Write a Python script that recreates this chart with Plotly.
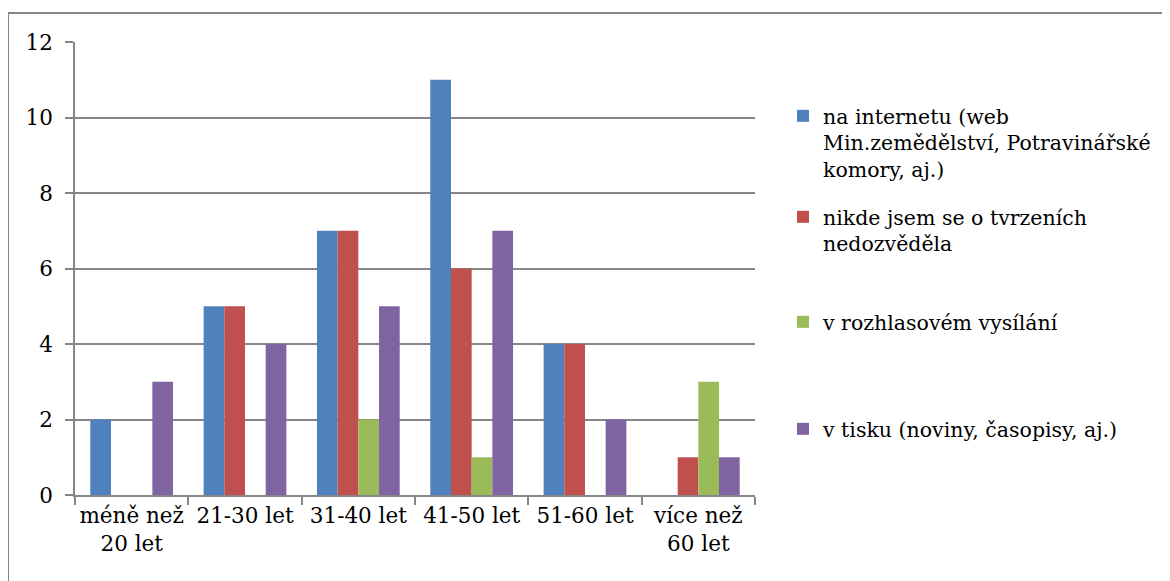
import plotly.graph_objects as go

categories = ["méně než<br>20 let", "21-30 let", "31-40 let", "41-50 let", "51-60 let", "více než<br>60 let"]
series_names = [
    "na internetu (web<br>Min.zemědělství, Potravinářské<br>komory, aj.)",
    "nikde jsem se o tvrzeních<br>nedozvěděla",
    "v rozhlasovém vysílání",
    "v tisku (noviny, časopisy, aj.)",
]
internet = [2, 5, 7, 11, 4, 0]
nikde = [0, 5, 7, 6, 4, 1]
rozhlas = [0, 0, 2, 1, 0, 3]
tisk = [3, 4, 5, 7, 2, 1]
colors = ["#4F81BD", "#C0504D", "#9BBB59", "#8064A2"]
y_ticks = [0, 2, 4, 6, 8, 10, 12]

W, H = 1170, 581
OFF = 8  # page body margin
L, R, T, B = 75 - OFF, 755 - OFF, 42 - OFF, 495 - OFF

def px_x(p):
    return (p - OFF - L) / (R - L)

def px_y(p):
    return (B - (p - OFF)) / (B - T)

FONT = "DejaVu Serif"
FS = 21.5
LFS = 20.5
fig = go.Figure()
legend_ids = ["legend", "legend2", "legend3", "legend4"]
for name, vals, col, lg in zip(series_names, [internet, nikde, rozhlas, tisk], colors, legend_ids):
    fig.add_trace(go.Bar(x=categories, y=vals, name=name, marker_color=col,
                         marker_line_width=0, legend=lg))

legend_tops = [96, 197, 302, 409]
leg_common = dict(font=dict(family=FONT, size=LFS, color="black"), valign="top",
                  bgcolor="rgba(0,0,0,0)", borderwidth=0, xanchor="left", yanchor="top")
layout_legends = {}
for lg, top in zip(legend_ids, legend_tops):
    layout_legends[lg] = dict(x=px_x(783), y=px_y(top), **leg_common)

fig.update_layout(
    width=W, height=H,
    margin=dict(l=L, r=W - R, t=T, b=H - B),
    paper_bgcolor="white", plot_bgcolor="white",
    barmode="group", bargap=0.27, bargroupgap=0,
    font=dict(family=FONT, size=FS, color="black"),
    showlegend=True,
    xaxis=dict(showline=True, linecolor="#868686", linewidth=1.5, automargin=False, tickangle=0,
               ticks="outside", tickson="boundaries", ticklen=8, tickcolor="#868686",
               tickwidth=1.5, showgrid=False, tickfont=dict(family=FONT, size=FS, color="black")),
    yaxis=dict(range=[0, 12], tickvals=y_ticks, showline=True, linecolor="#868686", linewidth=1.5,
               automargin=False, ticks="outside", ticklen=8, tickcolor="#868686", tickwidth=1.5,
               showgrid=True, gridcolor="#868686", gridwidth=1.5, zeroline=False,
               ticklabelstandoff=8, tickfont=dict(family=FONT, size=FS, color="black")),
    shapes=[dict(type="rect", xref="paper", yref="paper",
                 x0=px_x(8), x1=px_x(1200), y0=px_y(620), y1=px_y(13),
                 line=dict(color="#868686", width=2), fillcolor="rgba(0,0,0,0)", layer="below")],
    **layout_legends,
)

fig.write_html("out.html")
